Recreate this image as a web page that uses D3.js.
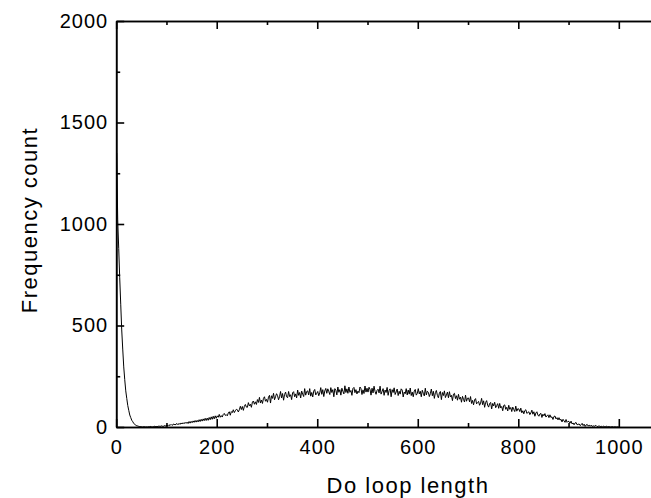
<!DOCTYPE html>
<html>
<head>
<meta charset="utf-8">
<script src="https://cdn.jsdelivr.net/npm/d3@7"></script>
<style>
  body { margin: 0; background: #fff; }
  text { font-family: "Liberation Sans", Arial, sans-serif; fill: #000; }
</style>
</head>
<body>
<svg id="chart" width="651" height="498"></svg>
<script>
// histogram of do loop lengths, one count per bin of 2
const binWidth = 2;
const counts = [
  1350, 1020, 880, 735, 605, 478, 384, 296, 233, 178,
  141, 106, 82, 59, 46, 33, 26, 17, 13, 9,
  6, 5, 3, 2, 2, 1, 0, 2, 1, 0,
  1, 0, 2, 1, 3, 0, 1, 2, 4, 1,
  3, 2, 5, 3, 4, 6, 2, 5, 7, 4,
  10, 6, 11, 7, 13, 8, 12, 15, 10, 14,
  17, 11, 18, 13, 20, 15, 21, 16, 23, 18,
  24, 17, 27, 19, 28, 21, 30, 23, 32, 24,
  33, 25, 36, 27, 38, 29, 40, 31, 43, 32,
  44, 33, 47, 36, 50, 38, 53, 40, 55, 43,
  55, 48, 62, 48, 56, 49, 62, 67, 57, 61,
  55, 69, 75, 58, 76, 71, 85, 71, 80, 87,
  85, 74, 85, 102, 86, 101, 82, 102, 111, 98,
  97, 120, 104, 112, 97, 123, 128, 112, 124, 111,
  135, 121, 146, 118, 133, 116, 141, 149, 127, 136,
  122, 147, 156, 118, 154, 141, 166, 134, 149, 164,
  155, 134, 149, 175, 143, 165, 132, 160, 172, 149,
  144, 175, 150, 159, 135, 169, 174, 149, 163, 143,
  182, 156, 170, 143, 177, 162, 150, 189, 157, 175,
  178, 158, 189, 152, 170, 148, 177, 185, 158, 166,
  175, 154, 168, 194, 161, 184, 150, 178, 190, 166,
  188, 174, 160, 194, 170, 184, 149, 189, 181, 158,
  197, 171, 184, 157, 191, 176, 163, 203, 170, 188,
  166, 197, 171, 180, 156, 190, 195, 169, 184, 163,
  177, 169, 197, 189, 160, 183, 165, 202, 172, 191,
  172, 196, 185, 157, 191, 168, 201, 175, 161, 181,
  186, 168, 201, 162, 175, 189, 156, 182, 170, 195,
  156, 180, 188, 149, 184, 170, 193, 160, 173, 187,
  155, 176, 162, 188, 182, 148, 172, 164, 189, 158,
  182, 162, 192, 155, 172, 149, 177, 185, 157, 165,
  189, 163, 176, 149, 181, 166, 153, 191, 158, 176,
  171, 150, 164, 187, 154, 176, 141, 169, 180, 156,
  144, 167, 175, 135, 170, 155, 178, 145, 158, 172,
  144, 174, 148, 156, 130, 162, 166, 140, 154, 132,
  161, 137, 147, 122, 151, 136, 123, 157, 127, 142,
  143, 124, 150, 116, 131, 109, 134, 140, 114, 120,
  126, 107, 118, 141, 110, 129, 97, 121, 130, 108,
  98, 116, 121, 89, 116, 104, 122, 95, 105, 115,
  92, 116, 94, 101, 80, 106, 109, 87, 97, 79,
  107, 87, 96, 76, 98, 86, 76, 103, 78, 90,
  89, 76, 93, 70, 80, 65, 81, 85, 67, 71,
  75, 61, 69, 83, 63, 75, 53, 69, 75, 59,
  53, 64, 67, 47, 63, 55, 66, 49, 55, 60,
  46, 60, 47, 50, 37, 52, 54, 40, 46, 35,
  46, 34, 38, 25, 38, 30, 23, 37, 23, 28,
  27, 19, 29, 15, 20, 11, 20, 22, 11, 13,
  15, 7, 11, 18, 7, 14, 3, 10, 13, 5,
  9, 4, 9, 3, 6, 3, 7, 7, 2, 4,
  5, 2, 4, 0, 4, 2, 1, 4, 1, 2,
  2, 0, 1, 2, 0, 1, 1, 0, 1, 0,
  0
];

const xMajor = [0, 200, 400, 600, 800, 1000];
const xMinor = [100, 300, 500, 700, 900];
const yMajor = [0, 500, 1000, 1500, 2000];
const yMinor = [250, 750, 1250, 1750];

// each count sits at its bin centre
const data = counts.map((c, i) => ({ len: i * binWidth + binWidth / 2, count: c }));

const svg = d3.select("#chart");
const plotLeft = 116.2, plotRight = 654, plotTop = 21, plotBottom = 427;

const x = d3.scaleLinear().domain([0, 1070]).range([plotLeft, plotRight]);
const y = d3.scaleLinear().domain([0, 2000]).range([plotBottom, plotTop]);

svg.append("clipPath").attr("id", "clip")
  .append("rect").attr("x", plotLeft).attr("y", plotTop - 2)
  .attr("width", plotRight - plotLeft).attr("height", plotBottom - plotTop + 2);

// the data line
svg.append("path")
  .datum(data)
  .attr("clip-path", "url(#clip)")
  .attr("fill", "none")
  .attr("stroke", "#000")
  .attr("stroke-width", 1)
  .attr("d", d3.line().x(d => x(d.len)).y(d => y(d.count)));

let styleAxis = g => {
  g.select(".domain").attr("stroke", "#000").attr("stroke-width", 1.6);
  g.selectAll(".tick line").attr("stroke", "#000").attr("stroke-width", 1.6);
  g.selectAll("text")
    .style("font-size", "20px")
    .style("letter-spacing", "1px")
    .attr("fill", "#000");
};

const fmt = d3.format("d");

// bottom
svg.append("g").attr("transform", `translate(0,${plotBottom})`)
  .call(d3.axisBottom(x).tickValues(xMajor).tickFormat(fmt).tickSize(-8).tickPadding(12.5).tickSizeOuter(0))
  .call(styleAxis);
svg.append("g").attr("transform", `translate(0,${plotBottom})`)
  .call(d3.axisBottom(x).tickValues(xMinor).tickSize(-4).tickFormat("").tickSizeOuter(0))
  .call(styleAxis);

// top (mirror)
svg.append("g").attr("transform", `translate(0,${plotTop})`)
  .call(d3.axisTop(x).tickValues(xMajor).tickSize(-8).tickFormat("").tickSizeOuter(0))
  .call(styleAxis);
svg.append("g").attr("transform", `translate(0,${plotTop})`)
  .call(d3.axisTop(x).tickValues(xMinor).tickSize(-4).tickFormat("").tickSizeOuter(0))
  .call(styleAxis);

// left
svg.append("g").attr("transform", `translate(${plotLeft},0)`)
  .call(d3.axisLeft(y).tickValues(yMajor).tickFormat(fmt).tickSize(-8).tickPadding(8).tickSizeOuter(0))
  .call(styleAxis);
svg.append("g").attr("transform", `translate(${plotLeft},0)`)
  .call(d3.axisLeft(y).tickValues(yMinor).tickSize(-4).tickFormat("").tickSizeOuter(0))
  .call(styleAxis);

// axis titles
svg.append("text")
  .attr("x", 408).attr("y", 493)
  .attr("text-anchor", "middle")
  .style("font-size", "22px")
  .style("letter-spacing", "1.5px")
  .text("Do loop length");

svg.append("text")
  .attr("transform", "translate(37,220) rotate(-90)")
  .attr("text-anchor", "middle")
  .style("font-size", "22px")
  .style("letter-spacing", "1.5px")
  .text("Frequency count");
</script>
</body>
</html>
